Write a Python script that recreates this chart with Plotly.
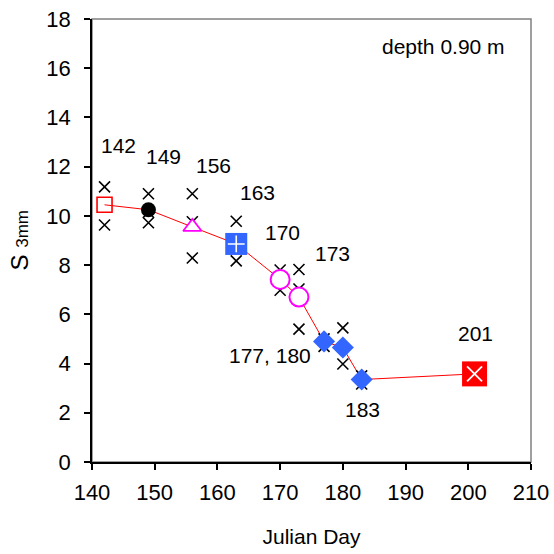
import plotly.graph_objects as go

# ---- data ----
days = [142, 149, 156, 163, 170, 173, 177, 180, 183, 201]
mean_s = [10.45, 10.25, 9.55, 8.86, 7.42, 6.70, 4.90, 4.65, 3.35, 3.58]

rep_days = [142, 142, 149, 149, 149, 156, 156, 156, 163, 163, 163,
            170, 170, 173, 173, 173, 177, 177, 180, 180, 183, 183, 201]
rep_s = [11.18, 9.63, 10.90, 9.72, 10.15, 10.90, 9.76, 8.29, 9.78, 8.17, 8.85,
         7.80, 6.98, 7.82, 7.03, 5.40, 5.00, 4.70, 5.45, 3.98, 3.50, 3.17, 3.60]

label_texts = ["142", "149", "156", "163", "170", "173", "177, 180", "183", "201"]
label_x = [144.2, 151.4, 159.3, 166.4, 170.4, 178.4, 175.3, 183.1, 201.1]
label_y = [12.85, 12.42, 12.06, 10.95, 9.32, 8.48, 4.34, 2.13, 5.21]
label_anchor = ["center"] * 6 + ["right"] + ["center"] * 2

x_ticks = [140, 150, 160, 170, 180, 190, 200, 210]
y_ticks = [0, 2, 4, 6, 8, 10, 12, 14, 16, 18]

FONT = "Liberation Sans, Arial, sans-serif"
BLUE = "#3366FF"
RED = "#FF0000"
MAG = "#FF00FF"

fig = go.Figure()

# connecting line
fig.add_trace(go.Scatter(x=days, y=mean_s, mode="lines",
                         line=dict(color=RED, width=1), hoverinfo="skip"))
# replicate X markers
fig.add_trace(go.Scatter(x=rep_days, y=rep_s, mode="markers",
                         marker=dict(symbol="x-thin", size=11,
                                     line=dict(color="black", width=1.6))))


def add_mark(i, **m):
    fig.add_trace(go.Scatter(x=[days[i]], y=[mean_s[i]], mode="markers", marker=m))


add_mark(0, symbol="square-open", size=15, color=RED, line=dict(color=RED, width=1.6))
add_mark(1, symbol="circle", size=15, color="black", line=dict(width=0))
add_mark(2, symbol="triangle-up", size=16, color="white", line=dict(color=MAG, width=1.8))
add_mark(3, symbol="square", size=22, color=BLUE, line=dict(width=0))
add_mark(3, symbol="cross-thin", size=12, line=dict(color="white", width=1.6))
for i in (4, 5):
    add_mark(i, symbol="circle", size=19, color="white", line=dict(color=MAG, width=2))
for i in (6, 7, 8):
    add_mark(i, symbol="diamond", size=17, color=BLUE, line=dict(width=0))
add_mark(9, symbol="square", size=25, color=RED, line=dict(width=0))
add_mark(9, symbol="x-thin", size=15, line=dict(color="white", width=1.8))

annotations = []
for t, x, y, a in zip(label_texts, label_x, label_y, label_anchor):
    annotations.append(dict(x=x, y=y, text=t, showarrow=False, xanchor=a,
                            yanchor="middle", font=dict(size=21, color="black", family=FONT)))
annotations.append(dict(x=196.0, y=16.88, text="depth 0.90 m", showarrow=False,
                        xanchor="center", yanchor="middle",
                        font=dict(size=21, color="black", family=FONT)))
annotations.append(dict(x=0, xref="paper", xshift=-73, xanchor="center",
                        y=0.5, yref="paper", yanchor="middle", yshift=0,
                        text="S <span style='font-size:17px'>3mm</span>", textangle=-90,
                        showarrow=False,
                        font=dict(size=24, color="black", family=FONT)))

fig.update_layout(
    width=554, height=554,
    margin=dict(l=92, r=23, t=19, b=92, autoexpand=False),
    paper_bgcolor="white", plot_bgcolor="white",
    showlegend=False,
    font=dict(family=FONT, size=21, color="black"),
    annotations=annotations,
    shapes=[dict(type="rect", xref="paper", yref="paper", x0=0, y0=0, x1=1, y1=1,
                 line=dict(color="#808080", width=1.5), layer="below")],
    xaxis=dict(range=[140, 210], tickvals=x_ticks, showgrid=False, zeroline=False,
               showline=True, linecolor="black", linewidth=1.5, automargin=False,
               ticks="outside", ticklen=6, tickwidth=1.5, tickcolor="black",
               ticklabelstandoff=4,
               tickfont=dict(size=22), title=dict(text="Julian Day", font=dict(size=21), standoff=25)),
    yaxis=dict(range=[0, 18], tickvals=y_ticks, showgrid=False, zeroline=False,
               showline=True, linecolor="black", linewidth=1.5, automargin=False,
               ticks="outside", ticklen=6, tickwidth=1.5, tickcolor="black",
               ticklabelstandoff=9,
               tickfont=dict(size=22)),
)

fig.write_html("out.html")
